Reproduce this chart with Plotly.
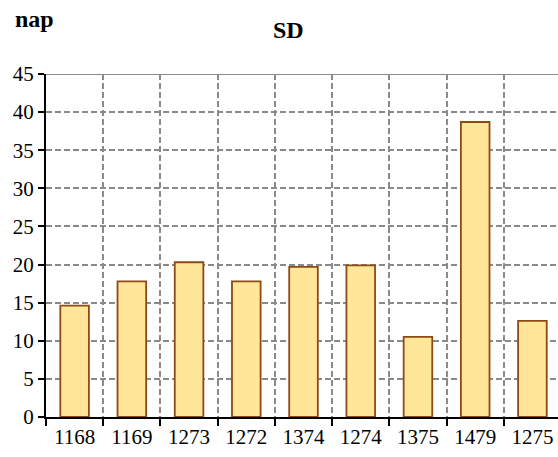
import plotly.graph_objects as go

categories = ["1168", "1169", "1273", "1272", "1374", "1274", "1375", "1479", "1275"]
sd_values = [14.6, 17.8, 20.3, 17.8, 19.7, 19.9, 10.5, 38.7, 12.6]
y_ticks = [0, 5, 10, 15, 20, 25, 30, 35, 40, 45]

serif = "Liberation Serif, Times New Roman, serif"
grid_dash = "6px,3px"

fig = go.Figure(
    go.Bar(
        x=categories,
        y=sd_values,
        marker=dict(color="#FFE699", line=dict(color="#8E4A14", width=1.8)),
        width=0.5,
    )
)

fig.update_layout(
    width=558,
    height=457,
    margin=dict(l=46, r=0, t=74, b=40),
    paper_bgcolor="white",
    plot_bgcolor="white",
    showlegend=False,
    font=dict(family=serif, size=20, color="black"),
    annotations=[
        dict(text="<b>SD</b>", xref="paper", yref="paper", x=0.4746, y=1.128,
             xanchor="center", yanchor="middle", showarrow=False,
             font=dict(family=serif, size=24, color="black")),
        dict(text="<b>nap</b>", xref="paper", yref="paper", x=-0.0215, y=1.16,
             xanchor="center", yanchor="middle", showarrow=False,
             font=dict(family=serif, size=24, color="black")),
    ],
)

fig.update_xaxes(
    type="category",
    range=[-0.5, 8.447],
    tickson="boundaries",
    ticks="outside",
    ticklen=7,
    tickwidth=2,
    tickcolor="black",
    showgrid=True,
    gridcolor="#8a8a8a",
    gridwidth=1.8,
    griddash=grid_dash,
    showline=True,
    linecolor="black",
    linewidth=2,
    automargin=False,
    tickfont=dict(family=serif, size=21, color="black"),
)

fig.update_yaxes(
    range=[0, 45],
    tickvals=y_ticks,
    ticks="outside",
    ticklen=6,
    tickwidth=2,
    tickcolor="black",
    showgrid=True,
    gridcolor="#8a8a8a",
    gridwidth=1.8,
    griddash=grid_dash,
    showline=True,
    linecolor="black",
    linewidth=2,
    zeroline=False,
    automargin=False,
    tickfont=dict(family=serif, size=21, color="black"),
)

# solid grey line closing the plot area at the top
fig.add_shape(type="line", xref="paper", yref="y", x0=0, x1=1, y0=45, y1=45,
              line=dict(color="#8a8a8a", width=1.8), layer="above")

fig.write_html("out.html")
